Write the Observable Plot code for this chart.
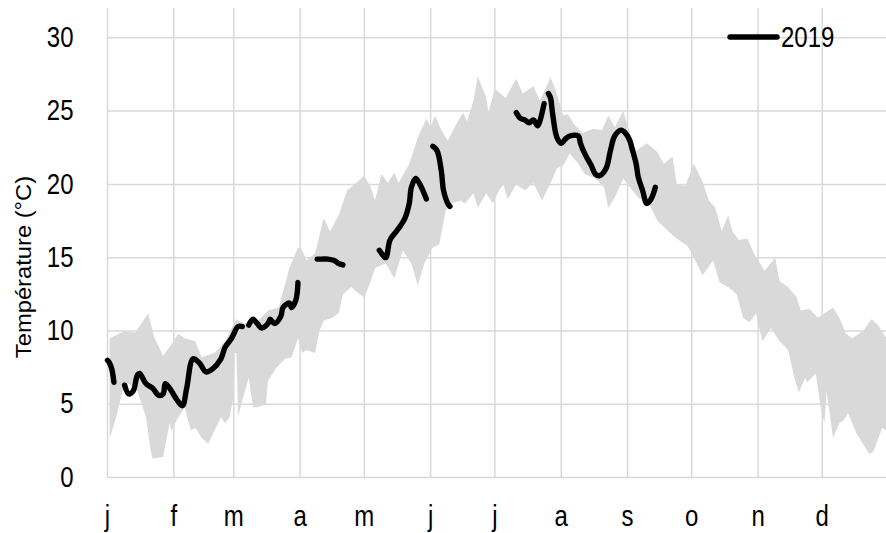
<!DOCTYPE html>
<html>
<head>
<meta charset="utf-8">
<script src="https://cdn.jsdelivr.net/npm/d3@7"></script>
<script src="https://cdn.jsdelivr.net/npm/@observablehq/plot@0.6"></script>
<style>
  html, body { margin: 0; padding: 0; background: #fff; }
  #chart { position: relative; width: 886px; height: 533px; }
</style>
</head>
<body>
<div id="chart"></div>
<script>
// Month ticks (day of year of the first of each month) and their labels
const monthDays = [0, 31, 59, 90, 120, 151, 181, 212, 243, 273, 304, 334];
const monthLabels = ["j", "f", "m", "a", "m", "j", "j", "a", "s", "o", "n", "d"];
const yTicks = [0, 5, 10, 15, 20, 25, 30];

// Upper edge of the grey envelope (day of year, °C)
const highDays = [1, 8, 13, 19, 22, 26, 30, 33, 36, 41, 44, 50, 55, 60, 64, 69, 75, 80, 85, 89, 91, 93, 97, 101, 104, 108, 112, 117, 120, 123, 125, 128, 131, 134, 136, 141, 145, 149, 151, 153, 156, 159, 163, 166, 168, 171, 173, 177, 178, 181, 186, 191, 194, 199, 202, 207, 209, 213, 215, 218, 222, 227, 231, 234, 237, 241, 243, 247, 252, 257, 260, 264, 266, 270, 274, 278, 281, 284, 287, 290, 292, 295, 299, 302, 305, 307, 312, 314, 318, 322, 324, 328, 332, 335, 339, 342, 345, 348, 353, 357, 360, 364];
const highTemps = [9.5, 10.0, 9.9, 11.2, 9.5, 8.3, 9.1, 9.8, 9.5, 9.3, 8.2, 8.5, 9.3, 10.8, 10.5, 10.5, 11.4, 11.6, 14.3, 15.7, 15.5, 14.8, 15.3, 17.7, 16.8, 17.9, 19.6, 20.2, 20.6, 19.8, 18.9, 20.7, 20.1, 20.8, 20.1, 21.4, 23.2, 24.5, 23.9, 24.7, 23.7, 23.0, 24.1, 24.9, 24.3, 25.7, 27.4, 25.9, 24.9, 26.5, 25.9, 27.2, 26.2, 26.7, 25.7, 27.3, 26.6, 24.7, 24.8, 24.1, 23.5, 23.8, 23.7, 24.7, 23.9, 25.0, 24.0, 22.3, 22.8, 22.2, 21.4, 21.9, 20.0, 19.9, 21.4, 20.2, 18.9, 18.4, 16.8, 17.9, 16.8, 16.2, 16.3, 15.3, 14.6, 14.1, 15.0, 13.4, 13.0, 12.3, 11.4, 11.5, 10.9, 11.2, 11.6, 10.9, 9.8, 9.5, 10.0, 10.8, 10.4, 9.5];

// Lower edge of the grey envelope (day of year, °C)
const lowDays = [1, 4, 7, 10, 14, 18, 20, 21, 26, 29, 30, 33, 36, 39, 41, 44, 47, 50, 53, 55, 57, 59, 59.4, 60.3, 61, 66, 68, 70, 74, 75, 79, 83, 86, 89, 91, 93, 97, 99, 101, 105, 108, 110, 114, 116, 120, 123, 125, 130, 134, 138, 142, 145, 148, 152, 155, 158, 161, 165, 167, 171, 173, 177, 180, 183, 185, 187, 191, 195, 199, 203, 208, 210, 213, 216, 220, 223, 228, 232, 234, 237, 241, 243, 248, 253, 257, 262, 266, 271, 274, 278, 283, 286, 290, 294, 297, 300, 303, 306, 310, 314, 318, 321, 323, 326, 327, 331, 333, 335, 336, 339, 342, 344, 346, 350, 353, 356, 358, 362, 364];
const lowTemps = [2.7, 4.1, 5.9, 6.4, 5.9, 4.1, 2.0, 1.3, 1.4, 3.7, 3.2, 4.1, 4.8, 3.2, 3.4, 2.7, 2.3, 3.2, 4.1, 3.7, 4.1, 5.5, 8.5, 8.5, 4.2, 6.8, 4.8, 4.8, 5.0, 6.6, 7.5, 8.1, 8.2, 9.5, 8.5, 8.7, 8.5, 10.0, 10.7, 10.9, 11.2, 12.5, 13.0, 12.7, 12.3, 13.4, 14.3, 14.6, 13.6, 15.5, 14.6, 13.1, 14.6, 15.7, 15.9, 18.2, 18.7, 18.9, 18.7, 19.4, 18.4, 19.4, 18.7, 19.6, 20.0, 19.0, 20.0, 19.6, 20.1, 18.9, 20.4, 21.1, 21.3, 22.1, 21.4, 20.7, 20.4, 19.8, 18.4, 19.1, 20.4, 20.0, 19.1, 18.7, 17.5, 16.8, 16.3, 15.8, 15.0, 13.8, 14.8, 13.3, 13.0, 12.5, 10.9, 10.6, 11.2, 9.3, 10.2, 9.3, 8.7, 6.8, 5.8, 6.8, 6.5, 7.1, 5.0, 3.7, 5.9, 2.7, 3.7, 3.9, 4.4, 3.0, 2.3, 1.6, 1.8, 3.4, 3.2];

// 2019 daily series (day of year, °C); null = missing data (gap)
const days2019 = [0, 1, 2, 3, 5, 8, 10, 12, 14, 15, 18, 21, 24, 26, 27, 29, 32, 35, 37, 40, 43, 46, 49, 53, 55, 58, 61, 63, 64, 66, 68, 70, 72, 75, 76, 78, 81, 82, 85, 86, 88, 89, 93, 98, 100, 103, 106, 108, 110, 118, 127, 128, 130, 132, 135, 137, 139, 141, 142, 144, 146, 149, 151, 152, 154, 156, 157, 159, 160, 175, 191, 193, 195, 197, 199, 201, 202, 204, 205, 206, 207, 208, 210, 212, 214, 216, 220, 221, 223, 226, 228, 230, 233, 235, 237, 240, 242, 244, 245, 247, 248, 250, 252, 254, 256];
const temps2019 = [8.0, 7.8, 7.4, 6.5, null, 6.3, 5.7, 5.9, 7.0, 7.1, 6.4, 6.1, 5.6, 5.7, 6.4, 6.1, 5.4, 4.9, 6.1, 8.1, 7.8, 7.2, 7.4, 8.1, 8.9, 9.5, 10.3, 10.3, null, 10.4, 10.8, 10.5, 10.2, 10.5, 10.8, 10.5, 11.0, 11.6, 11.9, 11.6, 12.1, 13.3, null, 14.9, 14.9, 14.9, 14.8, 14.6, 14.5, null, 15.5, 15.3, 15.0, 16.2, 16.8, 17.2, 17.7, 18.7, 19.8, 20.4, 20.0, 19.0, null, 22.6, 22.3, 20.9, 19.6, 18.7, 18.5, null, 24.9, 24.5, 24.4, 24.2, 24.4, 24.0, 24.3, 25.5, null, 26.2, 25.9, 24.8, 23.2, 22.8, 23.1, 23.3, 23.3, 22.8, 22.1, 21.3, 20.7, 20.6, 21.1, 22.3, 23.3, 23.7, 23.5, 23.0, 22.5, 21.4, 20.5, 19.6, 18.7, 19.0, 19.8];

const seriesName = "2019";
const yTitle = "Température (°C)";

// Build tables for the library
const band = [
  ...highDays.map((d, i) => ({day: d, t: highTemps[i]})),
  ...lowDays.map((d, i) => ({day: d, t: lowTemps[i]})).reverse()
];
const line2019 = days2019.map((d, i) => ({day: d, t: temps2019[i]}));

const FONT = "'Liberation Sans', Arial, sans-serif";
const GRID = "#d9d9d9";
const K = 1.2; // vertical stretch of the lettering in the original

const plot = Plot.plot({
  width: 886,
  height: 533,
  marginLeft: 107,
  marginRight: 0,
  marginTop: 8,
  marginBottom: 56,
  style: {fontFamily: FONT, fontSize: "24px", color: "#000", background: "#fff"},
  x: {domain: [0, 364]},
  y: {domain: [0, 32]},
  marks: [
    Plot.gridY(yTicks, {stroke: GRID, strokeOpacity: 1, strokeWidth: 1.5}),
    Plot.gridX(monthDays, {stroke: GRID, strokeOpacity: 1, strokeWidth: 1.5}),
    Plot.line(band, {x: "day", y: "t", fill: GRID, stroke: "none", curve: "linear"}),
    Plot.line(line2019, {x: "day", y: "t", stroke: "#000", strokeWidth: 5.4,
      strokeLinecap: "round", strokeLinejoin: "round", curve: "catmull-rom"}),
    Plot.axisX(monthDays, {tickSize: 0, tickPadding: 28, label: null,
      tickFormat: d => monthLabels[monthDays.indexOf(d)]}),
    Plot.axisY(yTicks, {tickSize: 0, tickPadding: 34, label: null})
  ]
});

// stretch axis lettering vertically around each label's own anchor
function stretch(el, k) {
  const xa = el.getAttribute("x"), ya = el.getAttribute("y");
  const x = xa && !/em$/.test(xa) ? +xa : 0;
  const y = ya && !/em$/.test(ya) ? +ya : 0;
  const t = el.getAttribute("transform") || "";
  el.setAttribute("transform", `${t} translate(${x},${y}) scale(1,${k}) translate(${-x},${-y})`);
}
plot.querySelectorAll("g[aria-label$='tick label'] text").forEach(el => stretch(el, K));

const svg = d3.select(plot);
// y-axis title
svg.append("text")
  .attr("transform", `translate(23,267) rotate(-90) scale(1.08,1)`)
  .attr("text-anchor", "middle")
  .attr("dominant-baseline", "central")
  .style("font-family", FONT)
  .style("font-size", "22px")
  .attr("fill", "#000")
  .text(yTitle);
// legend
svg.append("line")
  .attr("x1", 730).attr("x2", 777).attr("y1", 37).attr("y2", 37)
  .attr("stroke", "#000").attr("stroke-width", 5.4).attr("stroke-linecap", "round");
svg.append("text")
  .attr("x", 781).attr("y", 37)
  .attr("text-anchor", "start")
  .attr("dominant-baseline", "central")
  .attr("transform", `translate(781,37) scale(1,${K}) translate(-781,-37)`)
  .style("font-family", FONT)
  .style("font-size", "24px")
  .attr("fill", "#000")
  .text(seriesName);

document.getElementById("chart").appendChild(plot);
</script>
</body>
</html>
